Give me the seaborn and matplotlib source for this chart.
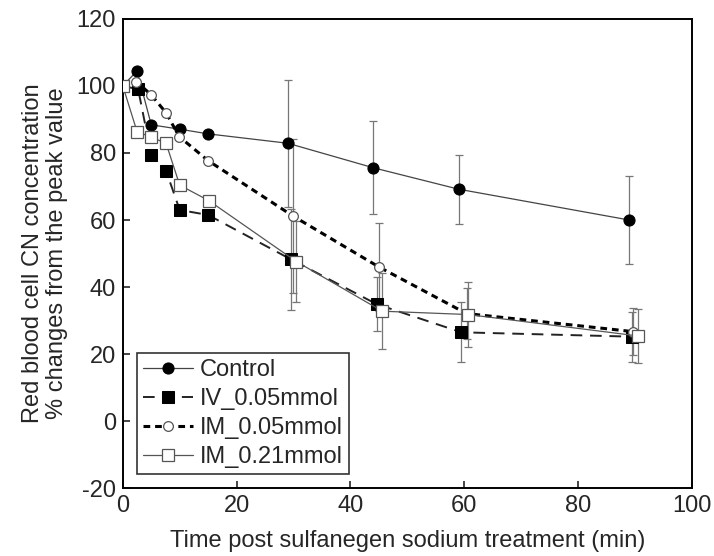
import numpy as np
import pandas as pd
import matplotlib
matplotlib.use("Agg")
import matplotlib.pyplot as plt
import seaborn as sns

# values
ctrl_t = [0, 2.5, 5, 10, 15, 29, 44, 59, 89]
ctrl_y = [100, 104.5, 88.4, 87.1, 85.7, 82.9, 75.6, 69.2, 60.0]
ctrl_err = [0, 0, 0, 0, 0, 19, 13.8, 10.3, 13]

iv_t = [0, 2.7, 5, 7.6, 10, 15, 29.5, 44.6, 59.5, 89.5]
iv_y = [100, 99, 79.4, 74.7, 63, 61.5, 48.3, 34.9, 26.5, 25.2]
iv_err = [0, 0, 0, 0, 0, 0, 15, 8, 8.9, 7.5]

im05_t = [0, 2.4, 5, 7.6, 9.9, 15, 29.9, 45, 60.4, 89.7]
im05_y = [100, 101.3, 97.3, 92, 84.9, 77.7, 61.2, 46, 32.1, 26.7]
im05_err = [0, 0, 0, 0, 0, 0, 23, 13, 7.5, 7]

im21_t = [0, 2.5, 5, 7.6, 10, 15.1, 30.5, 45.6, 60.7, 90.6]
im21_y = [100, 86.4, 84.7, 82.9, 70.4, 65.8, 47.6, 32.8, 31.8, 25.4]
im21_err = [0, 0, 0, 0, 0, 0, 12, 11.3, 9.6, 8]

sns.set_style("ticks")
plt.rcParams['font.family'] = ['Liberation Sans', 'DejaVu Sans']
plt.rcParams['axes.unicode_minus'] = False
plt.rcParams['xtick.direction'] = 'in'
plt.rcParams['ytick.direction'] = 'in'

fig = plt.figure(figsize=(7.14, 5.56), dpi=100)
ax = fig.add_axes([0.172, 0.122, 0.797, 0.844])

series = [
    ("Control", ctrl_t, ctrl_y, ctrl_err,
     dict(marker="o", color="#444444", linestyle="-", linewidth=0.9,
          markersize=8, markerfacecolor="black", markeredgecolor="black")),
    ("IV_0.05mmol", iv_t, iv_y, iv_err,
     dict(marker="s", color="#222222", linestyle=(0, (6, 4)), linewidth=1.4,
          markersize=8, markerfacecolor="black", markeredgecolor="black")),
    ("IM_0.05mmol", im05_t, im05_y, im05_err,
     dict(marker="o", color="black", linestyle=(0, (2.2, 1.6)), linewidth=2.2,
          markersize=7, markerfacecolor="white", markeredgecolor="#555555",
          markeredgewidth=0.9)),
    ("IM_0.21mmol", im21_t, im21_y, im21_err,
     dict(marker="s", color="#555555", linestyle="-", linewidth=0.9,
          markersize=8, markerfacecolor="white", markeredgecolor="#555555",
          markeredgewidth=0.9)),
]

for name, t, y, err, style in series:
    df = pd.DataFrame({"t": t, "y": y, "err": err})
    bars = df[df["err"] > 0]
    ax.errorbar(bars["t"], bars["y"], yerr=bars["err"], fmt="none",
                ecolor="#777777", elinewidth=0.9, capsize=3, capthick=0.9, zorder=1)
    sns.lineplot(data=df, x="t", y="y", ax=ax, sort=False, label=name,
                 zorder=3, **style)

ax.set_xlim(0, 100)
ax.set_ylim(-20, 120)
ax.set_xticks(np.arange(0, 101, 20))
ax.set_yticks(np.arange(-20, 121, 20))
ax.tick_params(labelsize=17, length=5, width=1.2, top=False, right=False, pad=5)
for sp in ax.spines.values():
    sp.set_linewidth(1.4)
    sp.set_color("black")

ax.set_xlabel("Time post sulfanegen sodium treatment (min)", fontsize=17, labelpad=9)
ax.set_ylabel("Red blood cell CN concentration\n% changes from the peak value",
              fontsize=17, labelpad=6, linespacing=1.1)

leg = ax.legend(loc="lower left", bbox_to_anchor=(0.025, 0.03), fontsize=17,
                frameon=True, fancybox=False, edgecolor="black",
                handlelength=2.1, handletextpad=0.3, borderpad=0.25,
                labelspacing=0.3, borderaxespad=0)
leg.get_frame().set_linewidth(1.2)

fig.savefig("out.png", dpi=100)
